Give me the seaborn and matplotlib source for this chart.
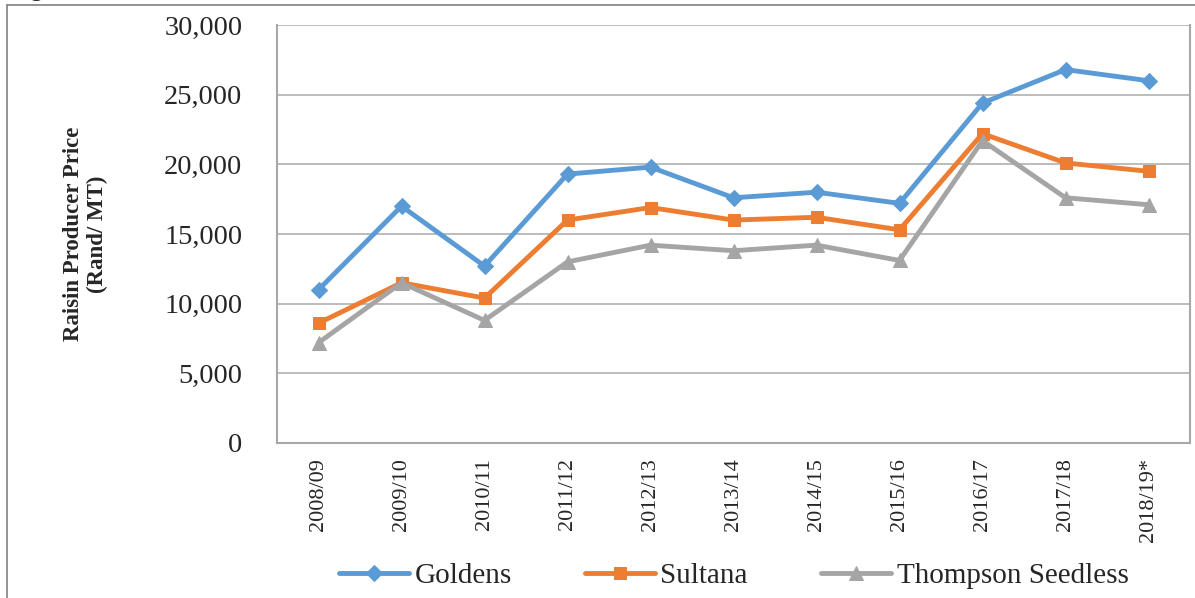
import matplotlib.pyplot as plt
import matplotlib.lines as mlines
import seaborn as sns
import pandas as pd

# Data
seasons = ['2008/09', '2009/10', '2010/11', '2011/12', '2012/13', '2013/14',
           '2014/15', '2015/16', '2016/17', '2017/18', '2018/19*']
goldens = [11000, 17000, 12700, 19300, 19800, 17600, 18000, 17200, 24400, 26800, 26000]
sultana = [8600, 11500, 10400, 16000, 16900, 16000, 16200, 15300, 22200, 20100, 19500]
thompson = [7200, 11500, 8800, 13000, 14200, 13800, 14200, 13100, 21700, 17600, 17100]
y_ticks = [0, 5000, 10000, 15000, 20000, 25000, 30000]

sns.set_theme(style="white")
plt.rcParams['font.family'] = ['Liberation Serif', 'DejaVu Serif']

fig = plt.figure(figsize=(11.95, 5.98), dpi=100)
ax = fig.add_axes([277 / 1195, 1 - 443 / 598, (1190 - 277) / 1195, (443 - 25) / 598])

series = [
    ('Goldens', goldens, '#5B9BD5', 'D', 8),
    ('Sultana', sultana, '#ED7D31', 's', 9),
    ('Thompson Seedless', thompson, '#A5A5A5', '^', 10),
]
for name, vals, color, marker, ms in series:
    df = pd.DataFrame({'season': seasons, 'price': vals})
    sns.lineplot(data=df, x='season', y='price', ax=ax, color=color, marker=marker,
                 markersize=ms, markeredgecolor=color, linewidth=3.5, label=name,
                 sort=False)

ax.set_xlim(-0.5, len(seasons) - 0.5)
ax.set_ylim(0, 30000)
ax.set_yticks(y_ticks)
ax.set_yticklabels([f'{v:,}' for v in y_ticks], fontsize=20.5)
ax.set_xticks(range(len(seasons)))
ax.set_xticklabels(seasons, rotation=90, fontsize=16)
ax.set_xticks([i - 0.5 for i in range(len(seasons) + 1)], minor=True)
ax.tick_params(axis='x', which='major', length=0, pad=11)
ax.tick_params(axis='x', which='minor', length=6, color='#a0a0a0', width=1.2)
ax.tick_params(axis='y', which='major', length=7, color='#a0a0a0', width=1.2, pad=18)
ax.set_xlabel('')
ax.set_ylabel('Raisin Producer Price\n(Rand/ MT)', fontsize=16.5, fontweight='bold',
              labelpad=40)

ax.grid(axis='y', color='#b0b0b0', linewidth=1.2)
ax.grid(axis='x', visible=False)
for side in ['left', 'right', 'bottom']:
    ax.spines[side].set_color('#a8a8a8')
    ax.spines[side].set_linewidth(1.5)
ax.spines['top'].set_visible(False)

ax.legend(loc='center', bbox_to_anchor=(0.5, -(576 - 443) / 418),
          bbox_transform=ax.transAxes, ncol=3, frameon=False, fontsize=21,
          handlelength=2.4, columnspacing=2.5, handletextpad=0.2)

# outer frame lines
fig.add_artist(mlines.Line2D([7 / 1195, 1], [1 - 5 / 598, 1 - 5 / 598], color='#808080', lw=1.2))
fig.add_artist(mlines.Line2D([7 / 1195, 7 / 1195], [0, 1 - 5 / 598], color='#808080', lw=1.2))
# caption fragment at top-left, clipped by the top edge as in the source image
fig.text(30 / 1195, 1 + 4 / 598, 'g', fontsize=16, fontweight='bold', va='baseline')

fig.savefig('out.png', dpi=100)
